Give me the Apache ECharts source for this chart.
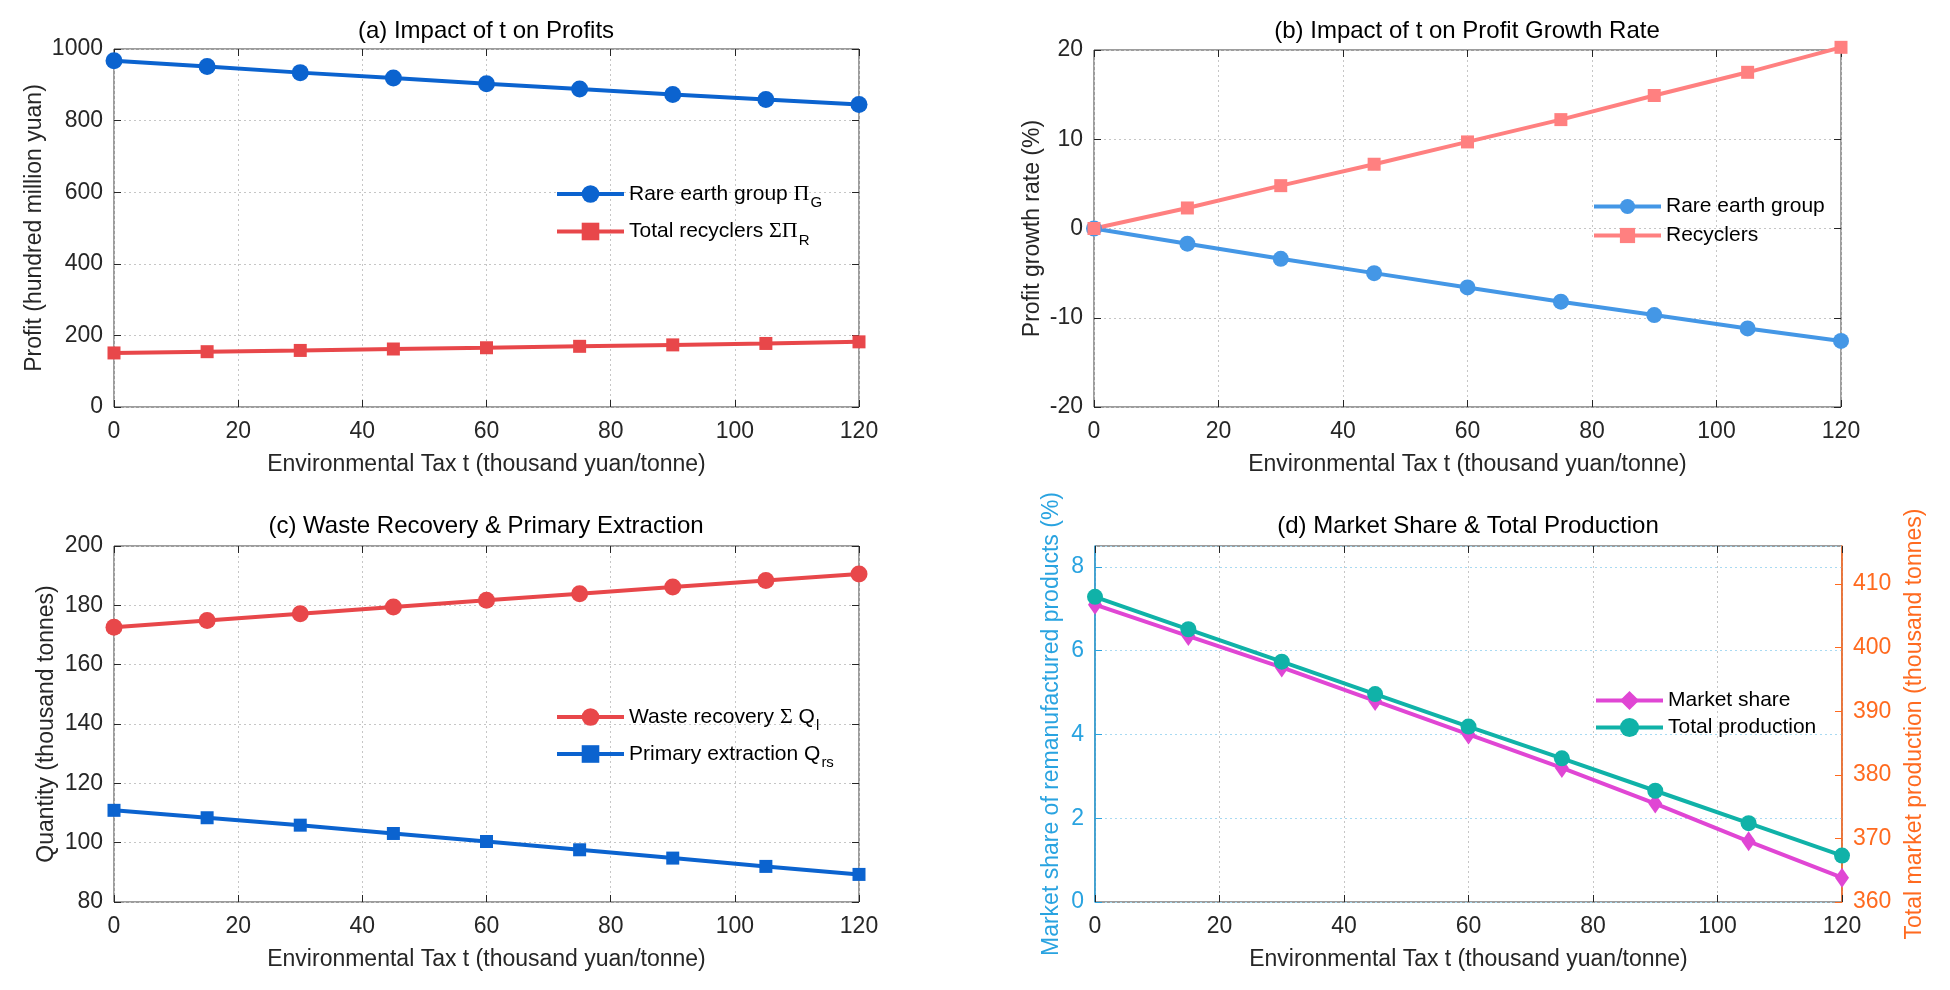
<!DOCTYPE html>
<html>
<head>
<meta charset="utf-8">
<title>Environmental tax t: profits, growth, quantities, market share</title>
<script src="https://cdn.jsdelivr.net/npm/echarts@6.0.0/dist/echarts.min.js"></script>
<style>
  html, body { margin: 0; padding: 0; background: #fff; }
  #chart { width: 1950px; height: 990px; }
</style>
</head>
<body>
<div id="chart"></div>
<script>
// values, t = environmental tax (thousand yuan/tonne)
const taxT = [0, 15, 30, 45, 60, 75, 90, 105, 120];

// (a) profits, hundred million yuan
const profitGroup = [967, 951, 934, 919, 903, 888, 873, 859, 845];
const profitRecyclers = [151, 154.5, 158, 162, 165.5, 169.5, 173.5, 177.5, 182];

// (b) profit growth rate, %
const growthGroup = [0, -1.7, -3.4, -5.0, -6.6, -8.2, -9.7, -11.2, -12.6];
const growthRecyclers = [0, 2.3, 4.8, 7.2, 9.7, 12.2, 14.9, 17.5, 20.3];

// (c) quantities, thousand tonnes
const wasteRecovery = [172.6, 174.9, 177.2, 179.4, 181.7, 183.9, 186.2, 188.4, 190.6];
const primaryExtraction = [110.9, 108.4, 105.9, 103.1, 100.4, 97.6, 94.8, 92.0, 89.3];

// (d) market share (%) and total production (thousand tonnes)
const marketShare = [7.1, 6.35, 5.6, 4.8, 4.0, 3.2, 2.35, 1.45, 0.58];
const totalProduction = [408.0, 402.9, 397.8, 392.7, 387.6, 382.6, 377.5, 372.4, 367.3];

const titles = [
  '(a) Impact of t on Profits',
  '(b) Impact of t on Profit Growth Rate',
  '(c) Waste Recovery & Primary Extraction',
  '(d) Market Share & Total Production'
];
const xName = 'Environmental Tax t (thousand yuan/tonne)';

const FONT = '"Liberation Sans", Arial, Helvetica, sans-serif';
const SERIF = '"Liberation Serif", "DejaVu Serif", serif';
const TXT = '#262626';
const GRIDC = '#c6c6c6';
const BLUE_D = '#29a3e0';
const ORANGE = '#ff6a1f';
const AXF = 23;   // axis text size

const pairs = ys => taxT.map((t, i) => [t, ys[i]]);
const plain = v => String(v);

// panel boxes in pixels
const boxes = [
  { left: 114, right: 1091, top: 49, bottom: 583 },
  { left: 1094, right: 109, top: 50, bottom: 583 },
  { left: 114, right: 1091, top: 546, bottom: 88 },
  { left: 1095, right: 108, top: 546, bottom: 88 }
];
const titleX = [486, 1467, 486, 1468];
const titleY = [19, 19, 514, 514];

const yCfg = [
  { min: 0, max: 1000, interval: 200, name: 'Profit (hundred million yuan)', gap: 68 },
  { min: -20, max: 20, interval: 10, name: 'Profit growth rate (%)', gap: 50 },
  { min: 80, max: 200, interval: 20, name: 'Quantity (thousand tonnes)', gap: 56 },
  { min: 0, max: 8.5, interval: 2, name: 'Market share of remanufactured products (%)', gap: 32 }
];

const grid = boxes.map(b => Object.assign({
  show: true, borderColor: '#3a3a3a', borderWidth: 1, backgroundColor: '#fff'
}, b));

const xAxis = [];
const yAxis = [];
boxes.forEach((b, i) => {
  xAxis.push({
    type: 'value', gridIndex: i, position: 'bottom', min: 0, max: 120, interval: 20,
    name: xName, nameLocation: 'middle', nameGap: 46,
    nameTextStyle: { fontSize: AXF, color: TXT, fontFamily: FONT },
    axisLine: { show: false, onZero: false },
    axisTick: { inside: true, length: 7, lineStyle: { color: TXT } },
    axisLabel: { fontSize: AXF, color: TXT, margin: 13, fontFamily: FONT, formatter: plain },
    splitLine: { show: true, lineStyle: { type: [2, 3], color: GRIDC } }
  });
  xAxis.push({
    type: 'value', gridIndex: i, position: 'top', min: 0, max: 120, interval: 20,
    axisLine: { show: false, onZero: false },
    axisTick: { inside: true, length: 7, lineStyle: { color: TXT } },
    axisLabel: { show: false }, splitLine: { show: false }
  });
  const c = yCfg[i];
  const isD = i === 3;
  const col = isD ? BLUE_D : TXT;
  yAxis.push({
    type: 'value', gridIndex: i, position: 'left', min: c.min, max: c.max, interval: c.interval,
    name: c.name, nameLocation: 'middle', nameGap: c.gap,
    nameTextStyle: { fontSize: AXF, color: isD ? BLUE_D : TXT, fontFamily: FONT },
    axisLine: { show: isD, onZero: false, lineStyle: { color: BLUE_D, width: 1.5 } },
    axisTick: { inside: true, length: 7, lineStyle: { color: col } },
    axisLabel: { fontSize: AXF, color: col, margin: 11, fontFamily: FONT, formatter: plain, showMaxLabel: !isD },
    splitLine: { show: true, lineStyle: { type: [2, 3], color: isD ? '#a9daf2' : GRIDC } }
  });
  if (isD) {
    yAxis.push({
      type: 'value', gridIndex: i, position: 'right', min: 360, max: 416, interval: 10,
      name: 'Total market production (thousand tonnes)', nameLocation: 'middle', nameGap: 61,
      nameTextStyle: { fontSize: AXF, color: ORANGE, fontFamily: FONT },
      axisLine: { show: true, onZero: false, lineStyle: { color: ORANGE, width: 1.5 } },
      axisTick: { inside: true, length: 7, lineStyle: { color: ORANGE } },
      axisLabel: { fontSize: AXF, color: ORANGE, margin: 11, fontFamily: FONT, showMaxLabel: false },
      splitLine: { show: false }
    });
  } else {
    yAxis.push({
      type: 'value', gridIndex: i, position: 'right', min: c.min, max: c.max, interval: c.interval,
      axisLine: { show: false, onZero: false },
      axisTick: { inside: true, length: 7, lineStyle: { color: TXT } },
      axisLabel: { show: false }, splitLine: { show: false }
    });
  }
});

function line(name, panel, ys, color, symbol, size, width, yIdx) {
  return {
    type: 'line', name: name, data: pairs(ys),
    xAxisIndex: panel * 2, yAxisIndex: yIdx === undefined ? panel * 2 : yIdx,
    symbol: symbol, symbolSize: size, showSymbol: true, clip: false,
    lineStyle: { color: color, width: width },
    itemStyle: { color: color, borderWidth: 0 },
    emphasis: { disabled: true }, z: 3
  };
}

const series = [
  line('Rare earth group ΠG', 0, profitGroup, '#0b63cf', 'circle', 17, 4),
  line('Total recyclers ΣΠR', 0, profitRecyclers, '#e8474a', 'rect', 13, 4),
  line('Rare earth group', 1, growthGroup, '#4497e6', 'circle', 16, 4),
  line('Recyclers', 1, growthRecyclers, '#ff8080', 'rect', 13, 4),
  line('Waste recovery ΣQl', 2, wasteRecovery, '#e8474a', 'circle', 17, 4),
  line('Primary extraction Qrs', 2, primaryExtraction, '#0b63cf', 'rect', 13, 4),
  line('Market share', 3, marketShare, '#e046d4', 'diamond', [14, 20], 4),
  line('Total production', 3, totalProduction, '#10b2a8', 'circle', 16, 4, 7)
];

const legendText = {
  'Rare earth group ΠG': '{t|Rare earth group }{s|Π}{sub|G}',
  'Total recyclers ΣΠR': '{t|Total recyclers }{s|ΣΠ}{sub|R}',
  'Rare earth group': '{t|Rare earth group}',
  'Recyclers': '{t|Recyclers}',
  'Waste recovery ΣQl': '{t|Waste recovery }{s|Σ}{t| Q}{sub|l}',
  'Primary extraction Qrs': '{t|Primary extraction Q}{sub|rs}',
  'Market share': '{t|Market share}',
  'Total production': '{t|Total production}'
};
const rich = {
  t: { fontSize: 21, color: '#000', fontFamily: FONT },
  s: { fontSize: 22, color: '#000', fontFamily: SERIF },
  sub: { fontSize: 15, color: '#000', fontFamily: FONT, padding: [18, 0, 0, 1] }
};
function legend(names, left, top, h, gap, lw) {
  return {
    orient: 'vertical', left: left, top: top, padding: 0,
    itemWidth: 67, itemHeight: h, itemGap: gap,
    data: names, selectedMode: false,
    lineStyle: { width: lw },
    formatter: n => legendText[n],
    textStyle: { fontSize: 21, color: '#000', fontFamily: FONT, rich: rich }
  };
}

const option = {
  backgroundColor: '#fff',
  animation: false,
  title: titles.map((t, i) => ({
    text: t, left: titleX[i], top: titleY[i], textAlign: 'center', padding: 0,
    textStyle: { fontSize: 24, fontWeight: 'normal', color: '#000', fontFamily: FONT }
  })),
  grid: grid,
  xAxis: xAxis,
  yAxis: yAxis,
  legend: [
    legend(['Rare earth group ΠG', 'Total recyclers ΣΠR'], 555, 183, 22, 10, 4),
    legend(['Rare earth group', 'Recyclers'], 1592, 196, 19, 8, 4),
    legend(['Waste recovery ΣQl', 'Primary extraction Qrs'], 555, 706, 22, 10, 4),
    legend(['Market share', 'Total production'], 1594, 690, 24, 6, 4)
  ],
  series: series
};

const chart = echarts.init(document.getElementById('chart'));
chart.setOption(option);
</script>
</body>
</html>
